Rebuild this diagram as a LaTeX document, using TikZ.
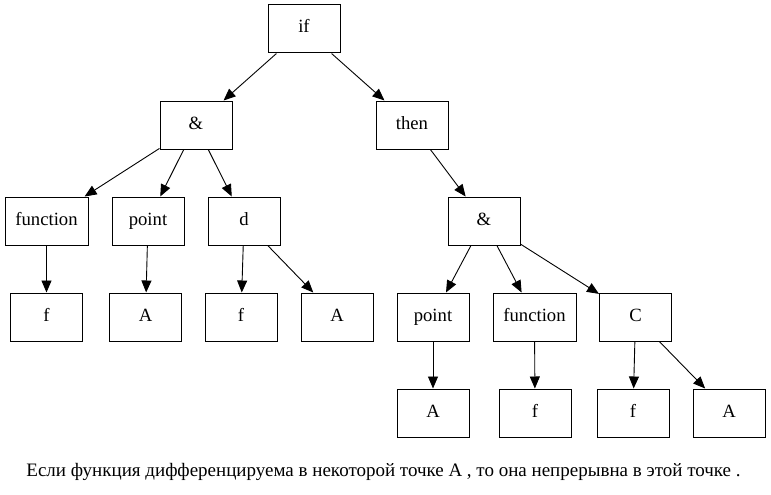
\documentclass[tikz,border=0pt]{standalone}
\usepackage{fontspec}
\setmainfont{Liberation Serif}
\usetikzlibrary{arrows.meta}

\begin{document}
\begin{tikzpicture}[x=1pt, y=-1pt,
        treebox/.style={draw, rectangle, line width=1pt, minimum width=72pt, minimum height=48pt, inner sep=0pt, text height=12pt, text depth=4pt, font=\fontsize{18.67}{22}\selectfont},
        widebox/.style={treebox, minimum width=83pt},
        treeedge/.style={-{Triangle[length=12pt, width=10pt]}, line width=0.9pt}]
        \useasboundingbox (0,0) rectangle (771,495);
        \node[treebox] (if) at (304,29) {if};
        \node[treebox] (and1) at (196,125) {\&};
        \node[treebox] (then) at (412,125) {then};
        \node[widebox] (func1) at (46.5,221) {function};
        \node[treebox] (point1) at (148,221) {point};
        \node[treebox] (d) at (244,221) {d};
        \node[treebox] (f1) at (46.5,317) {f};
        \node[treebox] (A1) at (145.5,317) {A};
        \node[treebox] (f2) at (241,317) {f};
        \node[treebox] (A2) at (337,317) {A};
        \node[treebox] (and2) at (484,221) {\&};
        \node[treebox] (point2) at (433,317) {point};
        \node[widebox] (func2) at (534.5,317) {function};
        \node[treebox] (C) at (635.5,317) {C};
        \node[treebox] (A3) at (433,413) {A};
        \node[treebox] (f3) at (535,413) {f};
        \node[treebox] (f4) at (633,413) {f};
        \node[treebox] (A4) at (729,413) {A};
        \node[font=\fontsize{19}{22}\selectfont] (caption) at (383.5,472) {Если функция дифференцируема в некоторой точке A , то она непрерывна в этой точке .};
        \draw[treeedge] (if) -- (and1);
        \draw[treeedge] (if) -- (then);
        \draw[treeedge] (and1) -- (func1);
        \draw[treeedge] (and1) -- (point1);
        \draw[treeedge] (and1) -- (d);
        \draw[treeedge] (func1) -- (f1);
        \draw[treeedge] (point1) -- (A1);
        \draw[treeedge] (d) -- (f2);
        \draw[treeedge] (d) -- (A2);
        \draw[treeedge] (then) -- (and2);
        \draw[treeedge] (and2) -- (point2);
        \draw[treeedge] (and2) -- (func2);
        \draw[treeedge] (and2) -- (C);
        \draw[treeedge] (point2) -- (A3);
        \draw[treeedge] (func2) -- (f3);
        \draw[treeedge] (C) -- (f4);
        \draw[treeedge] (C) -- (A4);
    \end{tikzpicture}
\end{document}
